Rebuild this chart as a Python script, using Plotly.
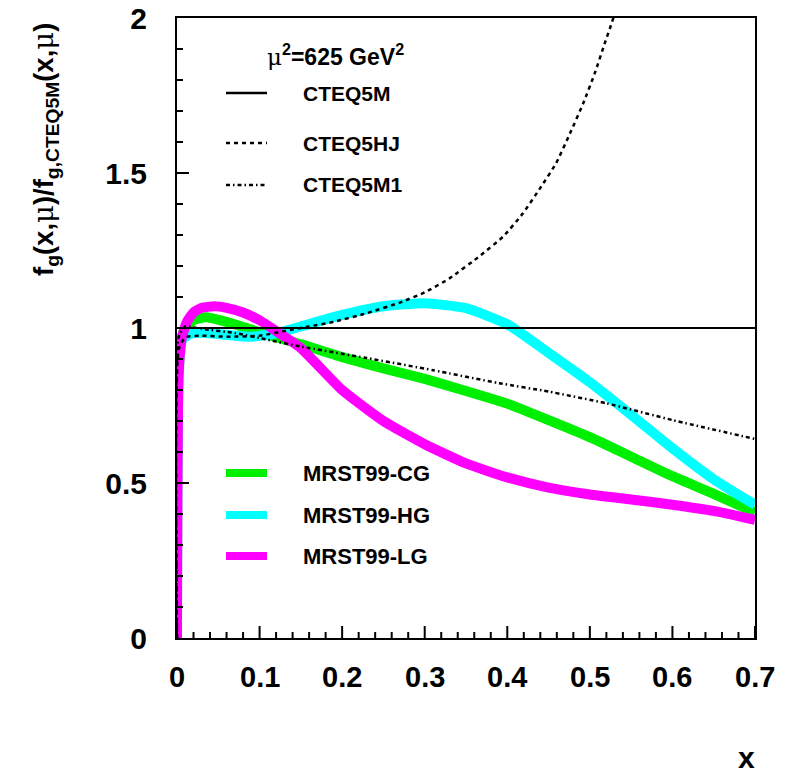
import plotly.graph_objects as go

# ---------------- data ----------------
x_cteq5m = [0.0, 0.7]
y_cteq5m = [1.0, 1.0]

x_cteq5hj = [0, 0.002, 0.01, 0.03, 0.06, 0.1, 0.13, 0.16, 0.19, 0.23, 0.27, 0.3, 0.33,
             0.368, 0.395, 0.419, 0.441, 0.459, 0.476, 0.492, 0.506, 0.518, 0.527, 0.54]
y_cteq5hj = [0, 0.93, 0.97, 0.975, 0.972, 0.975, 0.99, 1.005, 1.02, 1.048, 1.082, 1.115, 1.16,
             1.235, 1.295, 1.37, 1.456, 1.531, 1.628, 1.725, 1.822, 1.918, 1.988, 2.1]

x_cteq5m1 = [0, 0.002, 0.01, 0.03, 0.07, 0.11, 0.15, 0.23, 0.31, 0.39, 0.45, 0.52, 0.6, 0.7]
y_cteq5m1 = [0, 0.97, 1.005, 0.997, 0.984, 0.962, 0.94, 0.903, 0.864, 0.822, 0.795, 0.757, 0.703, 0.642]

x_cg = [0, 0.002, 0.008, 0.02, 0.035, 0.06, 0.09, 0.12, 0.15, 0.2, 0.25, 0.3, 0.35, 0.4,
        0.45, 0.5, 0.55, 0.6, 0.65, 0.7]
y_cg = [0, 0.9, 0.99, 1.025, 1.035, 1.02, 0.995, 0.97, 0.948, 0.906, 0.87, 0.836, 0.797, 0.756,
        0.703, 0.648, 0.585, 0.522, 0.465, 0.405]

x_hg = [0, 0.002, 0.006, 0.015, 0.03, 0.06, 0.09, 0.12, 0.15, 0.2, 0.25, 0.3, 0.35, 0.4,
        0.45, 0.5, 0.55, 0.6, 0.65, 0.7]
y_hg = [0, 0.85, 0.96, 0.98, 0.985, 0.978, 0.972, 0.983, 1.005, 1.042, 1.07, 1.08, 1.064, 1.012,
        0.92, 0.825, 0.72, 0.612, 0.512, 0.43]

x_lg = [0, 0.002, 0.006, 0.012, 0.02, 0.03, 0.045, 0.06, 0.08, 0.1, 0.12, 0.15, 0.2, 0.25,
        0.3, 0.35, 0.4, 0.45, 0.5, 0.55, 0.6, 0.65, 0.7]
y_lg = [0, 0.85, 0.97, 1.02, 1.05, 1.065, 1.07, 1.065, 1.05, 1.025, 0.99, 0.935, 0.8, 0.7,
        0.625, 0.563, 0.518, 0.485, 0.463, 0.447, 0.43, 0.41, 0.381]

x_ticks = [0, 0.1, 0.2, 0.3, 0.4, 0.5, 0.6, 0.7]
x_ticklabels = ["0", "0.1", "0.2", "0.3", "0.4", "0.5", "0.6", "0.7"]
y_ticks = [0, 0.5, 1, 1.5, 2]
y_ticklabels = ["0", "0.5", "1", "1.5", "2"]

cteq_names = ["CTEQ5M", "CTEQ5HJ", "CTEQ5M1"]
mrst_names = ["MRST99-CG", "MRST99-HG", "MRST99-LG"]

# ---------------- styles ----------------
W, H = 794, 773
L, R, T, B = 177, 39, 18, 135
FONT = "Liberation Sans, Arial, sans-serif"
GREEN, CYAN, MAGENTA = "#00ee00", "#00ffff", "#ff00ff"
dash_hj = "4px,4px"
dash_m1 = "4px,3px,1.5px,3px"
X_RANGE = [0, 0.7]
Y_RANGE = [0, 2]
PLOT_H = H - T - B


def px2paper_x(px):
    return (px - L) / (W - L - R)


def px2paper_y(py):
    return 1 - (py - T) / (H - T - B)


fig = go.Figure()

mrst = [(x_cg, y_cg, GREEN), (x_hg, y_hg, CYAN), (x_lg, y_lg, MAGENTA)]
for (xs, ys, c), n in zip(mrst, mrst_names):
    fig.add_trace(go.Scatter(x=xs, y=ys, mode="lines", name=n,
                             line=dict(color=c, width=10, shape="spline", smoothing=0.5),
                             showlegend=False))

fig.add_trace(go.Scatter(x=x_cteq5m, y=y_cteq5m, mode="lines", name=cteq_names[0],
                         line=dict(color="black", width=2), showlegend=False))
fig.add_trace(go.Scatter(x=x_cteq5hj, y=y_cteq5hj, mode="lines", name=cteq_names[1],
                         line=dict(color="black", width=2.5, dash=dash_hj, shape="spline",
                                   smoothing=0.5), showlegend=False))
fig.add_trace(go.Scatter(x=x_cteq5m1, y=y_cteq5m1, mode="lines", name=cteq_names[2],
                         line=dict(color="black", width=2.5, dash=dash_m1, shape="spline",
                                   smoothing=0.5), showlegend=False))

shapes = []
annotations = []

# ---------------- bottom axis tick marks (drawn inward from the x axis) ----------------
units_per_px = (Y_RANGE[1] - Y_RANGE[0]) / PLOT_H
n_minor = int(round((X_RANGE[1] - X_RANGE[0]) / 0.02))
for i in range(n_minor + 1):
    xv = X_RANGE[0] + i * 0.02
    is_major = (i % 5 == 0)
    ln = 12 if is_major else 6
    shapes.append(dict(type="line", xref="x", yref="y", x0=xv, x1=xv,
                       y0=Y_RANGE[0], y1=Y_RANGE[0] + ln * units_per_px,
                       line=dict(color="black", width=2), layer="above"))

# ---------------- hand-made legends ----------------
cteq_rows = [93, 143, 185]
cteq_dash = ["solid", dash_hj, dash_m1]
for name, py, d in zip(cteq_names, cteq_rows, cteq_dash):
    shapes.append(dict(type="line", xref="paper", yref="paper",
                       x0=px2paper_x(226), x1=px2paper_x(267),
                       y0=px2paper_y(py), y1=px2paper_y(py),
                       line=dict(color="black", width=2.5, dash=d)))
    annotations.append(dict(xref="paper", yref="paper", x=px2paper_x(301), y=px2paper_y(py),
                            xanchor="left", yanchor="middle", showarrow=False,
                            text="<b>%s</b>" % name,
                            font=dict(family=FONT, size=21, color="black")))

mrst_rows = [473, 515, 556]
for name, py, (_, _, c) in zip(mrst_names, mrst_rows, mrst):
    shapes.append(dict(type="line", xref="paper", yref="paper",
                       x0=px2paper_x(226), x1=px2paper_x(267),
                       y0=px2paper_y(py), y1=px2paper_y(py),
                       line=dict(color=c, width=8)))
    annotations.append(dict(xref="paper", yref="paper", x=px2paper_x(301), y=px2paper_y(py),
                            xanchor="left", yanchor="middle", showarrow=False,
                            text="<b>%s</b>" % name,
                            font=dict(family=FONT, size=22, color="black")))

MU = "<span style='font-family:DejaVu Serif;font-weight:normal'>μ</span>"
annotations.append(dict(xref="paper", yref="paper", x=px2paper_x(265), y=px2paper_y(55),
                        xanchor="left", yanchor="middle", showarrow=False,
                        text="<b>%s<sup>2</sup>=625 GeV<sup>2</sup></b>" % MU,
                        font=dict(family=FONT, size=23, color="black")))

annotations.append(dict(xref="paper", yref="paper", x=px2paper_x(45), y=px2paper_y(150),
                        xanchor="center", yanchor="middle", showarrow=False, textangle=-90,
                        text="<b>f<sub>g</sub>(x,%s)/f<sub>g,CTEQ5M</sub>(x,%s)</b>" % (MU, MU),
                        font=dict(family=FONT, size=27.5, color="black")))

annotations.append(dict(xref="paper", yref="paper", x=px2paper_x(746), y=px2paper_y(757),
                        xanchor="center", yanchor="middle", showarrow=False,
                        text="<b>x</b>",
                        font=dict(family=FONT, size=30, color="black")))

# x tick labels placed at the axis values, a bit below the axis
for v, t in zip(x_ticks, x_ticklabels):
    annotations.append(dict(xref="x", yref="paper", x=v, y=px2paper_y(677),
                            xanchor="center", yanchor="middle", showarrow=False,
                            text="<b>%s</b>" % t,
                            font=dict(family=FONT, size=29, color="black")))

fig.update_layout(
    width=W, height=H,
    margin=dict(l=L, r=R, t=T, b=B, autoexpand=False),
    paper_bgcolor="white", plot_bgcolor="white",
    showlegend=False,
    shapes=shapes,
    annotations=annotations,
    font=dict(family=FONT, color="black"),
)

fig.update_xaxes(
    range=X_RANGE, showgrid=False, zeroline=False, automargin=False,
    showline=True, linecolor="black", linewidth=2, mirror=True,
    ticks="", showticklabels=False,
)
fig.update_yaxes(
    range=Y_RANGE, showgrid=False, zeroline=False, automargin=False,
    showline=True, linecolor="black", linewidth=2, mirror=True,
    ticks="inside", ticklen=12, tickwidth=2, tickcolor="black",
    tickmode="array", tickvals=y_ticks, ticktext=y_ticklabels,
    tickfont=dict(family=FONT, size=30, color="black", weight="bold"),
    ticklabelstandoff=22,
    minor=dict(dtick=0.1, tick0=0, ticks="inside", ticklen=6, tickwidth=2,
               tickcolor="black", showgrid=False),
)

fig.write_html("out.html", config={"displayModeBar": False},
               post_script="document.body.style.margin='0px';")
